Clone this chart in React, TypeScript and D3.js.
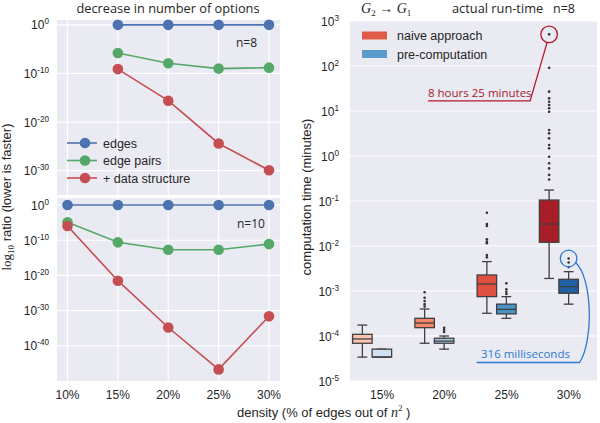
import React from "react";
import * as d3 from "d3";

// ---------- Left panels: log10 of ratio (exponents) ----------
const densityCats = ["10%", "15%", "20%", "25%", "30%"];
const n8Edges: (number | null)[] = [null, 0, 0, 0, 0];
const n8EdgePairs: (number | null)[] = [null, -5.8, -7.9, -9.0, -8.8];
const n8DataStruct: (number | null)[] = [null, -9.1, -15.6, -24.4, -29.9];
const n10Edges: (number | null)[] = [0, 0, 0, 0, 0];
const n10EdgePairs: (number | null)[] = [-4.9, -10.6, -12.7, -12.7, -11.1];
const n10DataStruct: (number | null)[] = [-5.95, -21.5, -34.8, -46.7, -31.6];
const seriesNames = ["edges", "edge pairs", "+ data structure"];
const seriesColors = ["#4c72b0", "#55a868", "#c44e52"];
const topTicks = [0, -10, -20, -30];
const bottomTicks = [0, -10, -20, -30, -40];

// ---------- Right panel: run-time boxplots (minutes) ----------
const runCats = ["15%", "20%", "25%", "30%"];
const naiveStats = [
  { lo: 3.4e-5, q1: 6.9e-5, med: 8.6e-5, q3: 1.09e-4, hi: 1.75e-4 },
  { lo: 6.9e-5, q1: 1.53e-4, med: 1.94e-4, q3: 2.47e-4, hi: 3.98e-4 },
  { lo: 3.2e-4, q1: 7.5e-4, med: 1.43e-3, q3: 2.27e-3, hi: 4.5e-3 },
  { lo: 1.9e-3, q1: 0.0121, med: 0.0308, q3: 0.105, hi: 0.175 },
];
const naiveOutliers = [
  [],
  [9.4e-4, 7.1e-4, 6.0e-4, 5.1e-4, 4.5e-4],
  [0.055, 0.0308, 0.0278, 0.0141, 0.0125, 0.0115, 6.3e-3, 5.6e-3],
  [505, 91.7, 26.9, 19.1, 16.1, 13.6, 11.5, 9.6, 3.78, 3.19, 2.47, 1.75, 1.48, 0.96, 0.69, 0.53, 0.38, 0.3],
];
const precompStats = [
  { lo: 3.4e-5, q1: 3.4e-5, med: 3.4e-5, q3: 5.1e-5, hi: 5.1e-5 },
  { lo: 5.1e-5, q1: 6.9e-5, med: 7.7e-5, q3: 8.9e-5, hi: 1.0e-4 },
  { lo: 2.47e-4, q1: 3.1e-4, med: 3.9e-4, q3: 5.1e-4, hi: 7.5e-4 },
  { lo: 5.1e-4, q1: 8.9e-4, med: 1.25e-3, q3: 1.82e-3, hi: 2.69e-3 },
];
const precompOutliers = [
  [],
  [1.53e-4, 1.37e-4, 1.23e-4],
  [1.48e-3, 1.09e-3, 9.6e-4, 8.6e-4],
  [5.27e-3, 4.3e-3, 3.4e-3],
];
const naiveColors = ["#fcc6ae", "#f6866a", "#df503f", "#a81e26"];
const precompColors = ["#d0e2f2", "#a7cce3", "#4a94c6", "#1f5fa2"];
const legendNames = ["naive approach", "pre-computation"];
const legendColors = ["#e05a48", "#5b9bca"];
const runTicks = [3, 2, 1, 0, -1, -2, -3, -4, -5];
const naiveMax = 505; // "8 hours 25 minutes"
const precompMax = 5.27e-3; // "316 milliseconds"

const SANS = "'Liberation Sans', Arial, sans-serif";
const OPEN = "'Open Sans', sans-serif";
const SERIF = "'Liberation Serif', 'DejaVu Serif', serif";
const BG = "#eaeaf2";
const BOXLINE = "#3f3f3f";

function Pow({ x, y, exp, anchor = "end", size = 12 }: any) {
  return (
    <text x={x} y={y} textAnchor={anchor} fontFamily={SANS} fontSize={size} fill="#262626">
      <tspan>10</tspan>
      <tspan dy={-5} fontSize={size * 0.68}>{String(exp)}</tspan>
    </text>
  );
}

function LinePanel({ top, bottom, domain, ticks, data, label }: any) {
  const x = d3.scalePoint().domain(densityCats).range([67.5, 269]);
  const y = d3.scaleLog().domain(domain.map((e: number) => Math.pow(10, e))).range([bottom, top]);
  const line = d3
    .line<any>()
    .defined((d: any) => d.v !== null)
    .x((d: any) => x(d.c) as number)
    .y((d: any) => y(Math.pow(10, d.v)));
  return (
    <g>
      <rect x={57} y={top} width={223} height={bottom - top} fill={BG} />
      {ticks.map((t: number) => (
        <line key={"h" + t} x1={57} x2={280} y1={y(Math.pow(10, t))} y2={y(Math.pow(10, t))} stroke="#fff" strokeWidth={1.2} />
      ))}
      {densityCats.map((c) => (
        <line key={"v" + c} x1={x(c)} x2={x(c)} y1={top} y2={bottom} stroke="#fff" strokeWidth={1.2} />
      ))}
      {ticks.map((t: number) => (
        <Pow key={"t" + t} x={49} y={y(Math.pow(10, t)) + 4.5} exp={t} />
      ))}
      {data.map((s: (number | null)[], i: number) => {
        const pts = s.map((v, j) => ({ c: densityCats[j], v }));
        return (
          <g key={i}>
            <path d={line(pts) || ""} fill="none" stroke={seriesColors[i]} strokeWidth={1.6} />
            {pts
              .filter((p) => p.v !== null)
              .map((p) => (
                <circle key={p.c} cx={x(p.c)} cy={y(Math.pow(10, p.v as number))} r={5.3} fill={seriesColors[i]} />
              ))}
          </g>
        );
      })}
      <text x={label.x} y={label.y} fontFamily={OPEN} fontSize={12} fill="#262626">{label.text}</text>
    </g>
  );
}

export default function App() {
  const rTop = 21, rBot = 381;
  const ry = d3.scaleLog().domain([1e-5, 1e3]).range([rBot, rTop]);
  const rx = d3.scaleBand().domain(runCats).range([341, 590]);
  const bw = 19.5;
  const half = rx.bandwidth() / 2;
  const lx = d3.scalePoint().domain(densityCats).range([67.5, 269]);

  const drawBox = (st: any, cx: number, color: string, outs: number[], key: string) => {
    const capW = bw / 2;
    return (
      <g key={key}>
        <line x1={cx} x2={cx} y1={ry(st.hi)} y2={ry(st.q3)} stroke={BOXLINE} strokeWidth={1.3} />
        <line x1={cx} x2={cx} y1={ry(st.q1)} y2={ry(st.lo)} stroke={BOXLINE} strokeWidth={1.3} />
        <line x1={cx - capW / 2} x2={cx + capW / 2} y1={ry(st.hi)} y2={ry(st.hi)} stroke={BOXLINE} strokeWidth={1.3} />
        <line x1={cx - capW / 2} x2={cx + capW / 2} y1={ry(st.lo)} y2={ry(st.lo)} stroke={BOXLINE} strokeWidth={1.3} />
        <rect x={cx - bw / 2} y={ry(st.q3)} width={bw} height={Math.max(0.5, ry(st.q1) - ry(st.q3))} fill={color} stroke={BOXLINE} strokeWidth={1.3} />
        <line x1={cx - bw / 2} x2={cx + bw / 2} y1={ry(st.med)} y2={ry(st.med)} stroke={BOXLINE} strokeWidth={1.3} />
        {outs.map((o, i) => (
          <circle key={i} cx={cx} cy={ry(o)} r={1.3} fill="#333" />
        ))}
      </g>
    );
  };

  const c30 = (rx("30%") as number) + half;
  const redCx = c30 - bw / 2;
  const redCy = ry(naiveMax);
  const blueCx = c30 + bw / 2;
  const blueCy = ry(precompMax);

  return (
    <svg width={600} height={423} style={{ display: "block", position: "absolute", left: 0, top: 0, background: "#fff" }}>
      {/* Left title */}
      <text x={168} y={13} textAnchor="middle" fontFamily={OPEN} fontSize={12.8} fill="#262626">
        decrease in number of options
      </text>
      <LinePanel
        top={20}
        bottom={195}
        domain={[-35, 1]}
        ticks={topTicks}
        data={[n8Edges, n8EdgePairs, n8DataStruct]}
        label={{ x: 236, y: 47, text: "n=8" }}
      />
      <LinePanel
        top={198}
        bottom={381}
        domain={[-50, 2]}
        ticks={bottomTicks}
        data={[n10Edges, n10EdgePairs, n10DataStruct]}
        label={{ x: 237, y: 228, text: "n=10" }}
      />
      {/* left legend */}
      {seriesNames.map((n, i) => (
        <g key={n}>
          <line x1={67} x2={97} y1={143 + i * 17.5} y2={143 + i * 17.5} stroke={seriesColors[i]} strokeWidth={1.6} />
          <circle cx={85} cy={143 + i * 17.5} r={5.3} fill={seriesColors[i]} />
          <text x={103} y={147.5 + i * 17.5} fontFamily={SANS} fontSize={12.5} fill="#262626">{n}</text>
        </g>
      ))}
      {/* left x ticks */}
      {densityCats.map((c) => (
        <text key={c} x={lx(c)} y={399} textAnchor="middle" fontFamily={SANS} fontSize={12} fill="#262626">
          {c}
        </text>
      ))}
      {/* left y label */}
      <text transform="translate(11,197) rotate(-90)" textAnchor="middle" fontFamily={SANS} fontSize={13} fill="#262626">
        <tspan fontFamily={SERIF}>log</tspan>
        <tspan fontFamily={SERIF} fontSize={9} dy={3}>10</tspan>
        <tspan dy={-3}> ratio (lower is faster)</tspan>
      </text>

      {/* Right panel */}
      <rect x={350} y={rTop} width={247} height={rBot - rTop} fill={BG} />
      {runTicks.map((t) => (
        <line key={t} x1={350} x2={597} y1={ry(Math.pow(10, t))} y2={ry(Math.pow(10, t))} stroke="#fff" strokeWidth={1.2} />
      ))}
      {runTicks.map((t) => (
        <Pow key={"rt" + t} x={339} y={ry(Math.pow(10, t)) + 4.5} exp={t} />
      ))}
      {runCats.map((c, i) => {
        const cc = (rx(c) as number) + half;
        return (
          <g key={c}>
            {drawBox(naiveStats[i], cc - bw / 2, naiveColors[i], naiveOutliers[i], "n" + c)}
            {drawBox(precompStats[i], cc + bw / 2, precompColors[i], precompOutliers[i], "p" + c)}
            <text x={cc + 10} y={399} textAnchor="middle" fontFamily={SANS} fontSize={12} fill="#262626">{c}</text>
          </g>
        );
      })}
      {/* right legend */}
      {legendNames.map((n, i) => (
        <g key={n}>
          <rect x={362} y={31.5 + i * 18.5} width={25} height={8} fill={legendColors[i]} />
          <text x={397} y={40 + i * 18.5} fontFamily={SANS} fontSize={12.5} fill="#262626">{n}</text>
        </g>
      ))}
      {/* annotations */}
      <circle cx={redCx} cy={redCy} r={8.3} fill="none" stroke="#b3192c" strokeWidth={1.3} />
      <path d={`M${redCx - 2},${redCy + 8} L${redCx - 19},${redCy + 66.5} L428,${redCy + 66.5}`} fill="none" stroke="#b3192c" strokeWidth={1.3} />
      <text x={428} y={redCy + 62.5} fontFamily={OPEN} fontSize={11.5} fill="#a5192d">8 hours 25 minutes</text>
      <circle cx={blueCx} cy={blueCy} r={8.3} fill="none" stroke="#2b7bd3" strokeWidth={1.3} />
      <path
        d={`M${blueCx + 7},${blueCy + 4} C${blueCx + 24},${blueCy + 20} ${blueCx + 25},${blueCy + 82} ${blueCx + 11},${blueCy + 104} L${blueCx - 92},${blueCy + 104}`}
        fill="none"
        stroke="#2b7bd3"
        strokeWidth={1.3}
      />
      <text x={481} y={blueCy + 99.5} fontFamily={OPEN} fontSize={11.5} fill="#2b7bd3">316 milliseconds</text>

      {/* right titles */}
      <text x={361} y={13} fontFamily={SERIF} fontStyle="italic" fontSize={14} fill="#262626">
        <tspan>G</tspan>
        <tspan fontSize={9} dy={3} fontStyle="normal">2</tspan>
        <tspan dy={-3} fontStyle="normal"> → </tspan>
        <tspan>G</tspan>
        <tspan fontSize={9} dy={3} fontStyle="normal">1</tspan>
      </text>
      <text x={452} y={13} fontFamily={OPEN} fontSize={12.8} fill="#262626">actual run-time</text>
      <text x={553} y={13} fontFamily={OPEN} fontSize={12.5} fill="#262626">n=8</text>
      {/* right y label */}
      <text transform="translate(311,197) rotate(-90)" textAnchor="middle" fontFamily={SANS} fontSize={13} fill="#262626">
        computation time (minutes)
      </text>
      {/* shared x label */}
      <text x={237} y={417} fontFamily={SANS} fontSize={13} fill="#262626">
        <tspan>density (% of edges out of </tspan>
        <tspan fontFamily={SERIF} fontStyle="italic" fontSize={14}>n</tspan>
        <tspan fontFamily={SERIF} fontSize={9} dy={-6}>2</tspan>
        <tspan dy={6}> )</tspan>
      </text>
    </svg>
  );
}
